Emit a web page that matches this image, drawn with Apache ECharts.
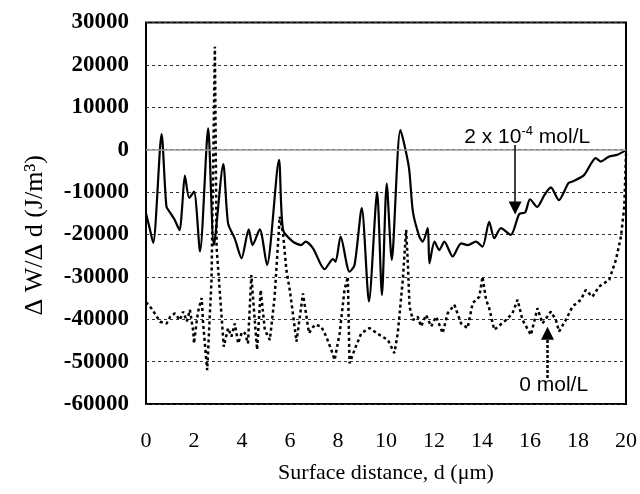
<!DOCTYPE html>
<html>
<head>
<meta charset="utf-8">
<script src="https://cdn.jsdelivr.net/npm/echarts@6/dist/echarts.min.js"></script>
<style>html,body{margin:0;padding:0;background:#fff}#c{width:640px;height:494px}</style>
</head>
<body>
<div id="c"></div>
<script>
// 2 x 10^-4 mol/L (solid)
const distSolid = [0,0.15,0.3,0.65,0.85,1.0,1.2,1.4,1.5,1.62,1.8,2.0,2.25,2.59,2.83,3.22,3.42,3.7,3.98,4.28,4.44,4.74,5.04,5.54,5.71,6.12,6.47,6.65,6.96,7.44,7.79,7.9,8.11,8.48,8.69,8.99,9.29,9.63,9.83,10.03,10.24,10.6,10.95,11.12,11.39,11.53,11.74,11.81,12.02,12.22,12.43,12.78,13.13,13.41,13.75,14.02,14.3,14.51,14.79,15.2,15.55,15.8,16.0,16.3,16.6,16.87,17.2,17.6,17.77,18.25,18.74,18.95,19.3,19.64,20];
const valSolid = [-15000,-18500,-22000,3700,-13400,-14800,-16600,-19000,-14000,-6100,-11400,-9900,-24000,5000,-22500,-3400,-17400,-21000,-25600,-18800,-22500,-18800,-27200,-2400,-18900,-21700,-22500,-21700,-23300,-28200,-25800,-26400,-20500,-28800,-27200,-13800,-35800,-10000,-34300,-8000,-26000,4600,-4000,-14600,-20500,-21700,-18500,-26800,-21700,-23700,-21700,-25200,-22100,-22500,-21700,-22900,-17000,-20900,-18500,-20100,-15200,-14800,-11700,-13500,-10700,-8900,-11900,-7900,-7500,-6000,-2000,-2800,-1600,-1200,-100];
// 0 mol/L (dotted)
const distZero = [0,0.17,0.35,0.58,0.86,1.0,1.2,1.41,1.55,1.7,1.83,1.97,2.0,2.1,2.17,2.32,2.38,2.55,2.73,2.87,2.94,3.08,3.24,3.42,3.56,3.7,3.84,4.0,4.12,4.25,4.39,4.53,4.63,4.78,4.95,5.16,5.36,5.57,5.71,5.85,5.99,6.12,6.27,6.54,6.79,7.03,7.3,7.51,7.72,7.86,8.07,8.27,8.41,8.48,8.69,8.97,9.31,9.73,10.08,10.35,10.49,10.7,10.84,10.91,10.98,11.12,11.32,11.46,11.67,11.88,12.09,12.36,12.57,12.85,13.13,13.4,13.61,13.89,14.02,14.17,14.3,14.51,15.0,15.27,15.48,15.69,16.04,16.31,16.52,16.87,17.08,17.21,17.49,17.77,18.12,18.32,18.6,18.88,19.3,19.58,19.79,19.93,20];
const valZero = [-36000,-37000,-38500,-40600,-41000,-39500,-38600,-40200,-38200,-40500,-37800,-42900,-45700,-41000,-38200,-35000,-41000,-52000,-30700,24300,-22900,-33900,-46500,-42100,-44100,-41000,-45700,-43000,-43300,-45700,-29600,-40200,-47200,-33100,-42500,-44900,-34700,-15800,-19700,-28400,-33100,-38600,-45300,-33900,-43300,-41300,-41700,-44100,-47200,-49600,-43300,-33100,-30000,-50400,-47200,-43300,-42100,-43700,-44900,-48000,-43300,-30700,-18900,-26800,-37000,-40200,-39400,-41700,-39000,-41700,-39400,-43300,-38600,-36600,-41000,-42100,-36200,-34700,-30000,-35400,-37400,-42500,-40200,-38600,-35400,-40200,-43700,-37400,-41000,-38200,-40200,-42900,-40200,-37000,-35400,-33100,-34700,-32300,-30700,-26000,-20500,-13400,-1000];

const xTitle = 'Surface distance, d (\u03BCm)';
const yTitle = '\u0394 W/\u0394 d (J/m\u00B3)';

const pair = (xs, ys) => xs.map((x, i) => [x, ys[i]]);

const chart = echarts.init(document.getElementById('c'));
chart.setOption({
  animation: false,
  backgroundColor: '#fff',
  grid: { left: 146, right: 13, top: 22.5, bottom: 90, show: true, borderColor: '#000', borderWidth: 2, backgroundColor: 'transparent' },
  xAxis: {
    type: 'value', min: 0, max: 20, interval: 2,
    axisLine: { show: false }, axisTick: { show: false }, splitLine: { show: false },
    axisLabel: { color: '#000', fontFamily: 'Liberation Serif', fontSize: 22, margin: 26 },
    name: xTitle, nameLocation: 'middle', nameGap: 58,
    nameTextStyle: { color: '#000', fontFamily: 'Liberation Serif', fontSize: 22 }
  },
  yAxis: {
    type: 'value', min: -60000, max: 30000, interval: 10000,
    axisLine: { show: false }, axisTick: { show: false },
    splitLine: { show: true, lineStyle: { color: '#333', type: [3, 3], width: 1 } },
    axisLabel: { color: '#000', fontFamily: 'Liberation Serif', fontSize: 23, fontWeight: 'bold', margin: 17, formatter: v => String(v) },
    name: yTitle, nameLocation: 'middle', nameGap: 98, nameRotate: 90,
    nameTextStyle: { color: '#000', fontFamily: 'Liberation Serif', fontSize: 26, padding: [0, 44, 0, 0] }
  },
  series: [
    {
      type: 'line', data: pair(distZero, valZero), symbol: 'none', smooth: false,
      lineStyle: { color: '#000', width: 2.5, type: [3, 3] },
      markLine: {
        silent: true, animation: false,
        data: [
          [{ coord: [0, 0], symbol: 'none', lineStyle: { color: '#999', type: 'solid', width: 1.5 } }, { coord: [20, 0], symbol: 'none' }],
          [{ coord: [16.73, -53850], symbol: 'none', lineStyle: { color: '#000', type: [3, 2], width: 2.5 } }, { coord: [16.73, -43300], symbol: 'triangle', symbolSize: 13 }]
        ],
        label: { show: false }
      },
      markPoint: {
        silent: true,
        data: [{ coord: [15.55, -55500], symbol: 'circle', symbolSize: 0,
          label: { show: true, position: 'right', distance: 0, formatter: '0 mol/L', color: '#000', fontFamily: 'Liberation Sans', fontSize: 21 } }]
      }
    },
    {
      type: 'line', data: pair(distSolid, valSolid), symbol: 'none', smooth: 0.25,
      lineStyle: { color: '#000', width: 2.2 },
      markLine: {
        silent: true, animation: false,
        data: [
          [{ coord: [15.38, 1100], symbol: 'none', lineStyle: { color: '#000', type: 'solid', width: 1.5 } }, { coord: [15.38, -13750], symbol: 'triangle', symbolSize: 13 }]
        ],
        label: { show: false }
      },
      markPoint: {
        silent: true,
        data: [{ coord: [13.26, 3000], symbol: 'circle', symbolSize: 0,
          label: { show: true, position: 'right', distance: 0, formatter: '{a|2 x 10}{s|-4}{a| mol/L}',
            rich: { a: { color: '#000', fontFamily: 'Liberation Sans', fontSize: 21, lineHeight: 24 },
                    s: { color: '#000', fontFamily: 'Liberation Sans', fontSize: 13, verticalAlign: 'top', lineHeight: 24, padding: [0, 0, 12, 0] } } } }]
      }
    }
  ]
});
</script>
</body>
</html>
